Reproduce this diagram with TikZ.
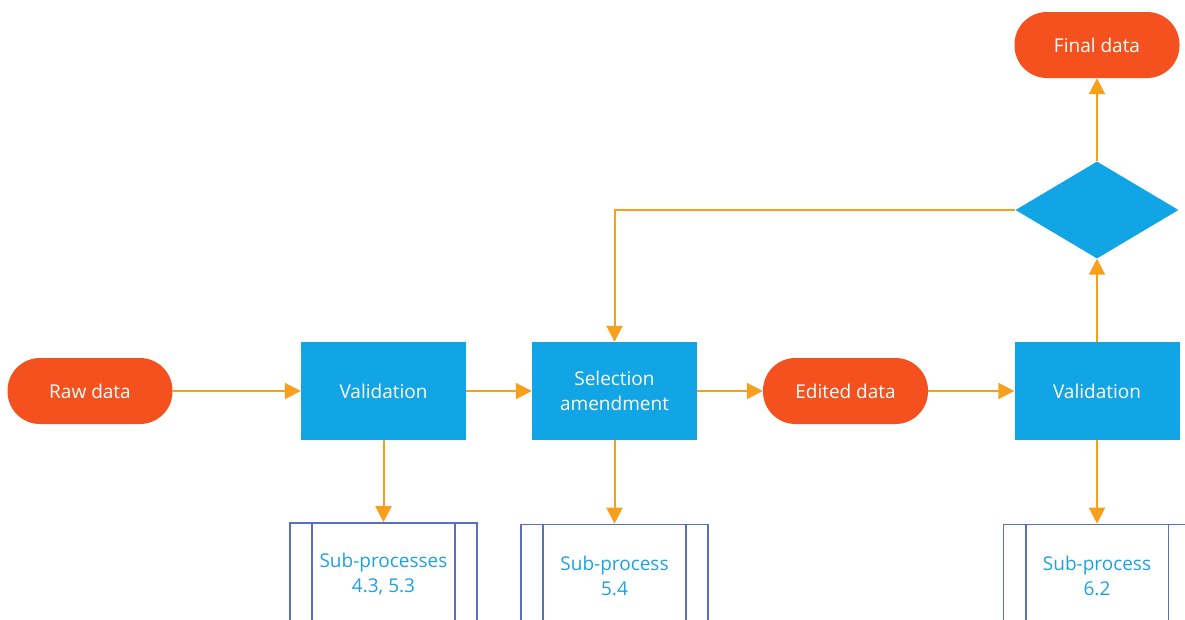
\documentclass[tikz,border=0pt]{standalone}
\usepackage{fontspec}
\setmainfont{Open Sans}
\usetikzlibrary{shapes.geometric,arrows.meta}
\definecolor{pillorange}{HTML}{F4511E}
\definecolor{procblue}{HTML}{12A5E6}
\definecolor{arrorange}{HTML}{F8A01C}
\definecolor{subborder}{HTML}{5A6FC0}
\definecolor{subtext}{HTML}{1DA1E2}
\tikzset{
  pill/.style={fill=pillorange, rounded corners=32.5pt, minimum width=165pt, minimum height=66pt, text=white, font=\fontsize{19}{25}\selectfont, inner sep=0pt},
  procbox/.style={fill=procblue, minimum width=165pt, minimum height=98pt, text=white, font=\fontsize{19}{25}\selectfont, align=center, inner sep=0pt},
  decision/.style={diamond, fill=procblue, minimum width=163pt, minimum height=97pt, inner sep=0pt},
  subbox/.style={draw=subborder, line width=1.6pt, minimum width=187pt, minimum height=102pt, text=subtext, font=\fontsize{19}{25}\selectfont, align=center, inner sep=0pt},
  flow/.style={draw=arrorange, line width=2pt, -{Triangle[length=16pt,width=16pt]}},
}
\newcommand{\subbars}[1]{%
  \draw[subborder, line width=1.6pt] ([xshift=23pt]#1.north west) -- ([xshift=23pt]#1.south west);
  \draw[subborder, line width=1.6pt] ([xshift=-23pt]#1.north east) -- ([xshift=-23pt]#1.south east);
}
\begin{document}
\begin{tikzpicture}[x=1pt,y=-1pt]
\useasboundingbox (0,0) rectangle (1185,619);
\clip (0,0) rectangle (1185,619);
\node[pill] (raw) at (90,391) {Raw data};
\node[procbox] (val1) at (383.5,391) {Validation};
\node[procbox] (sel) at (614.5,391) {Selection\\amendment};
\node[pill] (edited) at (845.5,391) {Edited data};
\node[procbox] (val2) at (1097,391) {Validation};
\node[decision] (dia) at (1097,210) {};
\node[pill] (final) at (1097,45) {Final data};
\node[subbox] (sp1) at (383.5,574) {Sub-processes\\4.3, 5.3};
\node[subbox] (sp2) at (614.5,575.5) {Sub-process\\5.4};
\node[subbox] (sp3) at (1097,575.5) {Sub-process\\6.2};
\subbars{sp1}
\subbars{sp2}
\subbars{sp3}
\draw[flow] (raw.east) -- (val1.west);
\draw[flow] (val1.east) -- (sel.west);
\draw[flow] (sel.east) -- (edited.west);
\draw[flow] (edited.east) -- (val2.west);
\draw[flow] (val2.north) -- (dia.south);
\draw[flow] (dia.north) -- (final.south);
\draw[flow] (dia.west) -| (sel.north);
\draw[flow] (val1.south) -- (sp1.north);
\draw[flow] (sel.south) -- (sp2.north);
\draw[flow] (val2.south) -- (sp3.north);
\end{tikzpicture}
\end{document}
